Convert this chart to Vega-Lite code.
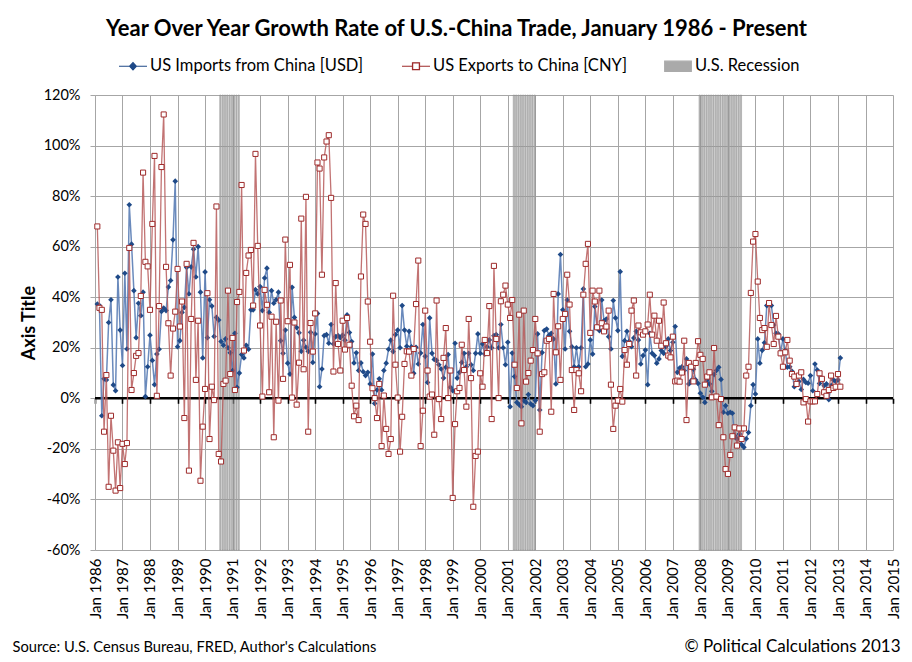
{
  "$schema": "https://vega.github.io/schema/vega-lite/v6.json",
  "background": "white",
  "padding": {"left": 12, "top": 18, "right": 12, "bottom": 8},
  "width": 798,
  "height": 455,
  "config": {
    "font": "Lato",
    "view": {"stroke": null},
    "axis": {"labelFont": "Lato", "titleFont": "Lato", "labelColor": "black", "titleColor": "black", "gridColor": "#a6a6a6", "gridOpacity": 1, "domainColor": "#a6a6a6", "tickColor": "#a6a6a6"},
    "legend": {
      "title": null, "orient": "none", "direction": "horizontal", "legendX": 23, "legendY": -44,
      "symbolSize": 784, "labelFont": "Lato", "labelFontSize": 16.5, "labelColor": "black", "labelLimit": 400,
      "labelOffset": 2, "columnPadding": 35
    }
  },
  "title": {"text": "Year Over Year Growth Rate of U.S.-China Trade, January 1986 - Present", "fontSize": 22, "fontWeight": "bold", "font": "Lato", "color": "black", "anchor": "middle", "frame": "bounds", "offset": 10},
  "data": {"values": [
    {"d":"1986-01","imp":37.3,"exp":68},{"d":"1986-02","imp":36.7,"exp":35.8},{"d":"1986-03","imp":-6.9,"exp":35},{"d":"1986-04","imp":7.7,"exp":-13.2},{"d":"1986-05","imp":7.3,"exp":9.2},{"d":"1986-06","imp":30,"exp":-35},{"d":"1986-07","imp":39,"exp":-6.9},{"d":"1986-08","imp":5.3,"exp":-20.7},{"d":"1986-09","imp":3,"exp":-36.5},{"d":"1986-10","imp":48,"exp":-17.4},{"d":"1986-11","imp":27,"exp":-35.5},{"d":"1986-12","imp":13,"exp":-18},
    {"d":"1987-01","imp":49.5,"exp":-26},{"d":"1987-02","imp":19.5,"exp":-17.7},{"d":"1987-03","imp":76.6,"exp":59.5},{"d":"1987-04","imp":61,"exp":3.3},{"d":"1987-05","imp":42.6,"exp":10},{"d":"1987-06","imp":24,"exp":16.8},{"d":"1987-07","imp":37.6,"exp":17.9},{"d":"1987-08","imp":32.7,"exp":40.5},{"d":"1987-09","imp":42,"exp":89.3},{"d":"1987-10","imp":0.7,"exp":54},{"d":"1987-11","imp":12.5,"exp":52.2},{"d":"1987-12","imp":25,"exp":35},
    {"d":"1988-01","imp":15,"exp":69},{"d":"1988-02","imp":5.4,"exp":95.9},{"d":"1988-03","imp":17.5,"exp":1},{"d":"1988-04","imp":19.4,"exp":36.5},{"d":"1988-05","imp":34.4,"exp":91.5},{"d":"1988-06","imp":35.7,"exp":112.3},{"d":"1988-07","imp":34.7,"exp":52},{"d":"1988-08","imp":44,"exp":29.7},{"d":"1988-09","imp":46.6,"exp":9},{"d":"1988-10","imp":62.7,"exp":27.6},{"d":"1988-11","imp":85.9,"exp":34.3},{"d":"1988-12","imp":20.4,"exp":51.2},
    {"d":"1989-01","imp":22.8,"exp":28.4},{"d":"1989-02","imp":34,"exp":38.3},{"d":"1989-03","imp":36,"exp":-7.8},{"d":"1989-04","imp":51.8,"exp":53.2},{"d":"1989-05","imp":41.3,"exp":-28.6},{"d":"1989-06","imp":52,"exp":31.4},{"d":"1989-07","imp":59,"exp":61.5},{"d":"1989-08","imp":48,"exp":7.3},{"d":"1989-09","imp":60,"exp":30.7},{"d":"1989-10","imp":42,"exp":-32.6},{"d":"1989-11","imp":16,"exp":-11.2},{"d":"1989-12","imp":50,"exp":3.7},
    {"d":"1990-01","imp":24,"exp":41.6},{"d":"1990-02","imp":39,"exp":-16.1},{"d":"1990-03","imp":36.5,"exp":4.6},{"d":"1990-04","imp":24.5,"exp":-0.7},{"d":"1990-05","imp":32,"exp":75.9},{"d":"1990-06","imp":31,"exp":-22},{"d":"1990-07","imp":22.5,"exp":-25},{"d":"1990-08","imp":21,"exp":5.7},{"d":"1990-09","imp":23.5,"exp":7},{"d":"1990-10","imp":20,"exp":42.6},{"d":"1990-11","imp":18,"exp":9.6},{"d":"1990-12","imp":11,"exp":23.9},
    {"d":"1991-01","imp":25.7,"exp":3.3},{"d":"1991-02","imp":4.4,"exp":38.1},{"d":"1991-03","imp":10,"exp":42.1},{"d":"1991-04","imp":17.3,"exp":84.4},{"d":"1991-05","imp":16,"exp":18.9},{"d":"1991-06","imp":21,"exp":49.6},{"d":"1991-07","imp":19.4,"exp":56.5},{"d":"1991-08","imp":35,"exp":58.7},{"d":"1991-09","imp":35,"exp":36.7},{"d":"1991-10","imp":43,"exp":96.7},{"d":"1991-11","imp":41.3,"exp":60.3},{"d":"1991-12","imp":44.2,"exp":28.8},
    {"d":"1992-01","imp":34.7,"exp":0.7},{"d":"1992-02","imp":47.6,"exp":42.9},{"d":"1992-03","imp":51.5,"exp":37},{"d":"1992-04","imp":34,"exp":2.4},{"d":"1992-05","imp":42.6,"exp":32.3},{"d":"1992-06","imp":37.6,"exp":-15.4},{"d":"1992-07","imp":39,"exp":30.3},{"d":"1992-08","imp":42,"exp":-0.9},{"d":"1992-09","imp":22.8,"exp":38.7},{"d":"1992-10","imp":17.8,"exp":7.7},{"d":"1992-11","imp":27,"exp":62.8},{"d":"1992-12","imp":13.9,"exp":30.5},
    {"d":"1993-01","imp":9.6,"exp":52.8},{"d":"1993-02","imp":43.9,"exp":0.3},{"d":"1993-03","imp":32,"exp":30},{"d":"1993-04","imp":28,"exp":-2.5},{"d":"1993-05","imp":25.9,"exp":14.1},{"d":"1993-06","imp":18.6,"exp":71.1},{"d":"1993-07","imp":23,"exp":11.5},{"d":"1993-08","imp":20.2,"exp":79.7},{"d":"1993-09","imp":18.6,"exp":-13.2},{"d":"1993-10","imp":26.1,"exp":29.8},{"d":"1993-11","imp":14.2,"exp":18.5},{"d":"1993-12","imp":25.5,"exp":33.6},
    {"d":"1994-01","imp":33.6,"exp":93.3},{"d":"1994-02","imp":4.6,"exp":90.9},{"d":"1994-03","imp":11.6,"exp":48.9},{"d":"1994-04","imp":24.8,"exp":95.3},{"d":"1994-05","imp":25.2,"exp":101.6},{"d":"1994-06","imp":21.8,"exp":104.1},{"d":"1994-07","imp":29.2,"exp":79.3},{"d":"1994-08","imp":21.5,"exp":10.6},{"d":"1994-09","imp":24.4,"exp":45.6},{"d":"1994-10","imp":24.8,"exp":21.5},{"d":"1994-11","imp":24,"exp":11},{"d":"1994-12","imp":25,"exp":30.7},
    {"d":"1995-01","imp":23,"exp":19.3},{"d":"1995-02","imp":33,"exp":31.8},{"d":"1995-03","imp":26,"exp":21.2},{"d":"1995-04","imp":22.5,"exp":5},{"d":"1995-05","imp":14,"exp":-7.1},{"d":"1995-06","imp":18,"exp":-2.9},{"d":"1995-07","imp":11,"exp":-8.6},{"d":"1995-08","imp":14,"exp":48.2},{"d":"1995-09","imp":10.5,"exp":72.7},{"d":"1995-10","imp":9,"exp":69},{"d":"1995-11","imp":10.3,"exp":38.3},{"d":"1995-12","imp":5.7,"exp":22.4},
    {"d":"1996-01","imp":17.5,"exp":4},{"d":"1996-02","imp":-2,"exp":0.1},{"d":"1996-03","imp":3.3,"exp":-7.8},{"d":"1996-04","imp":7.7,"exp":5.7},{"d":"1996-05","imp":3.3,"exp":-18.9},{"d":"1996-06","imp":11,"exp":1.1},{"d":"1996-07","imp":13.9,"exp":-12.1},{"d":"1996-08","imp":19.4,"exp":-22},{"d":"1996-09","imp":23,"exp":-16.1},{"d":"1996-10","imp":18.5,"exp":40.6},{"d":"1996-11","imp":25.2,"exp":13.3},{"d":"1996-12","imp":27,"exp":0.3},
    {"d":"1997-01","imp":20,"exp":-21.1},{"d":"1997-02","imp":36.7,"exp":-7.3},{"d":"1997-03","imp":27,"exp":13.6},{"d":"1997-04","imp":20.6,"exp":18.6},{"d":"1997-05","imp":26.5,"exp":18.5},{"d":"1997-06","imp":20.4,"exp":9},{"d":"1997-07","imp":9.9,"exp":19.5},{"d":"1997-08","imp":20.2,"exp":37.3},{"d":"1997-09","imp":13.6,"exp":54.5},{"d":"1997-10","imp":17.9,"exp":-18.9},{"d":"1997-11","imp":29.2,"exp":-4.9},{"d":"1997-12","imp":16.6,"exp":34.7},
    {"d":"1998-01","imp":6.3,"exp":11},{"d":"1998-02","imp":31.8,"exp":0.7},{"d":"1998-03","imp":17.8,"exp":1.5},{"d":"1998-04","imp":15.4,"exp":-14.4},{"d":"1998-05","imp":15,"exp":38.7},{"d":"1998-06","imp":13.3,"exp":-0.3},{"d":"1998-07","imp":11.6,"exp":-8.2},{"d":"1998-08","imp":8,"exp":16},{"d":"1998-09","imp":12.3,"exp":27.8},{"d":"1998-10","imp":17.3,"exp":0.1},{"d":"1998-11","imp":4.4,"exp":11},{"d":"1998-12","imp":3,"exp":-39.4},
    {"d":"1999-01","imp":21.8,"exp":-10.2},{"d":"1999-02","imp":8,"exp":2.8},{"d":"1999-03","imp":10.3,"exp":4.1},{"d":"1999-04","imp":14.2,"exp":21.2},{"d":"1999-05","imp":17.8,"exp":11.2},{"d":"1999-06","imp":12.5,"exp":-3.3},{"d":"1999-07","imp":17.8,"exp":31.4},{"d":"1999-08","imp":13.3,"exp":8},{"d":"1999-09","imp":11,"exp":-42.9},{"d":"1999-10","imp":17.8,"exp":-22.8},{"d":"1999-11","imp":25.5,"exp":-21.1},{"d":"1999-12","imp":17.8,"exp":9.9},
    {"d":"2000-01","imp":21.5,"exp":4.6},{"d":"2000-02","imp":17.5,"exp":23.1},{"d":"2000-03","imp":20.4,"exp":17.9},{"d":"2000-04","imp":23.1,"exp":36.5},{"d":"2000-05","imp":20,"exp":-8.2},{"d":"2000-06","imp":24.8,"exp":52.4},{"d":"2000-07","imp":25.2,"exp":23.5},{"d":"2000-08","imp":20,"exp":0.1},{"d":"2000-09","imp":29.2,"exp":38.4},{"d":"2000-10","imp":20,"exp":41},{"d":"2000-11","imp":13.3,"exp":44.6},{"d":"2000-12","imp":22.2,"exp":37.1},
    {"d":"2001-01","imp":-3.3,"exp":31.8},{"d":"2001-02","imp":17.9,"exp":38.9},{"d":"2001-03","imp":8.6,"exp":13.3},{"d":"2001-04","imp":-1.6,"exp":4.1},{"d":"2001-05","imp":-2.5,"exp":33.1},{"d":"2001-06","imp":-3.3,"exp":-9.9},{"d":"2001-07","imp":-0.9,"exp":34.7},{"d":"2001-08","imp":-1.6,"exp":6.6},{"d":"2001-09","imp":1.5,"exp":10},{"d":"2001-10","imp":-2.2,"exp":14.9},{"d":"2001-11","imp":-2.9,"exp":19.1},{"d":"2001-12","imp":-0.9,"exp":31.4},
    {"d":"2002-01","imp":25.5,"exp":17.8},{"d":"2002-02","imp":-4.6,"exp":-13.2},{"d":"2002-03","imp":18.1,"exp":9.6},{"d":"2002-04","imp":26.8,"exp":10.3},{"d":"2002-05","imp":27.4,"exp":22.8},{"d":"2002-06","imp":24.9,"exp":23.5},{"d":"2002-07","imp":25.7,"exp":-5.3},{"d":"2002-08","imp":23.5,"exp":41.3},{"d":"2002-09","imp":5.7,"exp":18.2},{"d":"2002-10","imp":41.3,"exp":28.5},{"d":"2002-11","imp":56.9,"exp":7.3},{"d":"2002-12","imp":35,"exp":31.4},
    {"d":"2003-01","imp":19.5,"exp":33.4},{"d":"2003-02","imp":38.9,"exp":48.9},{"d":"2003-03","imp":26.5,"exp":37.1},{"d":"2003-04","imp":20.4,"exp":11.2},{"d":"2003-05","imp":12.5,"exp":-4.6},{"d":"2003-06","imp":20,"exp":11.2},{"d":"2003-07","imp":12.5,"exp":9.9},{"d":"2003-08","imp":20,"exp":2.8},{"d":"2003-09","imp":43.3,"exp":41},{"d":"2003-10","imp":12.5,"exp":53.2},{"d":"2003-11","imp":13.6,"exp":61.1},{"d":"2003-12","imp":23.1,"exp":25.9},
    {"d":"2004-01","imp":17.5,"exp":42.6},{"d":"2004-02","imp":36.3,"exp":38.3},{"d":"2004-03","imp":27.8,"exp":28.1},{"d":"2004-04","imp":26.8,"exp":42.6},{"d":"2004-05","imp":38.9,"exp":29.7},{"d":"2004-06","imp":30.7,"exp":26.5},{"d":"2004-07","imp":31.4,"exp":28.4},{"d":"2004-08","imp":24.4,"exp":34.7},{"d":"2004-09","imp":19.5,"exp":5.4},{"d":"2004-10","imp":38.7,"exp":-12.1},{"d":"2004-11","imp":31.8,"exp":-2.9},{"d":"2004-12","imp":26.8,"exp":-0.9},
    {"d":"2005-01","imp":50.1,"exp":3.7},{"d":"2005-02","imp":16.6,"exp":-1.3},{"d":"2005-03","imp":22.8,"exp":19.1},{"d":"2005-04","imp":26.5,"exp":13.3},{"d":"2005-05","imp":22.6,"exp":21.5},{"d":"2005-06","imp":20.4,"exp":34.7},{"d":"2005-07","imp":23.9,"exp":38.7},{"d":"2005-08","imp":26.5,"exp":9},{"d":"2005-09","imp":23.1,"exp":28.8},{"d":"2005-10","imp":13.6,"exp":26.1},{"d":"2005-11","imp":16.9,"exp":25.2},{"d":"2005-12","imp":19.1,"exp":26.5},
    {"d":"2006-01","imp":5.4,"exp":29.2},{"d":"2006-02","imp":25.7,"exp":41},{"d":"2006-03","imp":17.8,"exp":25.2},{"d":"2006-04","imp":16.9,"exp":32.7},{"d":"2006-05","imp":13.9,"exp":22.8},{"d":"2006-06","imp":15.6,"exp":30.7},{"d":"2006-07","imp":18.9,"exp":20.8},{"d":"2006-08","imp":17.8,"exp":37.9},{"d":"2006-09","imp":20.4,"exp":21.8},{"d":"2006-10","imp":23.5,"exp":16.9},{"d":"2006-11","imp":18.9,"exp":16.2},{"d":"2006-12","imp":22.2,"exp":24.4},
    {"d":"2007-01","imp":28.4,"exp":6.7},{"d":"2007-02","imp":10.3,"exp":7},{"d":"2007-03","imp":12,"exp":6.6},{"d":"2007-04","imp":12.5,"exp":10.2},{"d":"2007-05","imp":11,"exp":22.8},{"d":"2007-06","imp":15.6,"exp":-8.6},{"d":"2007-07","imp":5.7,"exp":14},{"d":"2007-08","imp":7,"exp":12.5},{"d":"2007-09","imp":11.5,"exp":6.7},{"d":"2007-10","imp":7.3,"exp":14},{"d":"2007-11","imp":5.9,"exp":22.6},{"d":"2007-12","imp":2,"exp":17.2},
    {"d":"2008-01","imp":0.5,"exp":15.6},{"d":"2008-02","imp":-1.6,"exp":5.4},{"d":"2008-03","imp":7.3,"exp":8.6},{"d":"2008-04","imp":5.7,"exp":10.3},{"d":"2008-05","imp":2.8,"exp":0.4},{"d":"2008-06","imp":9.5,"exp":19.9},{"d":"2008-07","imp":11,"exp":0.7},{"d":"2008-08","imp":12.3,"exp":-10.6},{"d":"2008-09","imp":7.5,"exp":-0.3},{"d":"2008-10","imp":-5.5,"exp":-15.4},{"d":"2008-11","imp":-2.9,"exp":-28},{"d":"2008-12","imp":-5.9,"exp":-29.9},
    {"d":"2009-01","imp":-5.5,"exp":-22.4},{"d":"2009-02","imp":-5.9,"exp":-15},{"d":"2009-03","imp":-14.8,"exp":-11.5},{"d":"2009-04","imp":-16.1,"exp":-18.7},{"d":"2009-05","imp":-14.1,"exp":-11.9},{"d":"2009-06","imp":-18.3,"exp":-16.1},{"d":"2009-07","imp":-19.4,"exp":-11.9},{"d":"2009-08","imp":-16,"exp":9},{"d":"2009-09","imp":-13.5,"exp":12.5},{"d":"2009-10","imp":-2.9,"exp":41.7},{"d":"2009-11","imp":5.4,"exp":62},{"d":"2009-12","imp":1.7,"exp":65},
    {"d":"2010-01","imp":23.5,"exp":46.2},{"d":"2010-02","imp":13.9,"exp":31.8},{"d":"2010-03","imp":19,"exp":27},{"d":"2010-04","imp":22,"exp":27.8},{"d":"2010-05","imp":36.7,"exp":20.4},{"d":"2010-06","imp":37.3,"exp":37.7},{"d":"2010-07","imp":36.7,"exp":29},{"d":"2010-08","imp":29,"exp":21.5},{"d":"2010-09","imp":25.7,"exp":32.6},{"d":"2010-10","imp":25.5,"exp":24.4},{"d":"2010-11","imp":18,"exp":17.8},{"d":"2010-12","imp":23.5,"exp":12.5},
    {"d":"2011-01","imp":19,"exp":18.2},{"d":"2011-02","imp":12.3,"exp":23.1},{"d":"2011-03","imp":12.5,"exp":14.9},{"d":"2011-04","imp":10.7,"exp":9.6},{"d":"2011-05","imp":4.6,"exp":8.6},{"d":"2011-06","imp":5.7,"exp":5.7},{"d":"2011-07","imp":6.7,"exp":9},{"d":"2011-08","imp":3.5,"exp":10.3},{"d":"2011-09","imp":7.5,"exp":-1.6},{"d":"2011-10","imp":6.3,"exp":-0.3},{"d":"2011-11","imp":6,"exp":-9.2},{"d":"2011-12","imp":9,"exp":-1.2},
    {"d":"2012-01","imp":3,"exp":-1.2},{"d":"2012-02","imp":13.6,"exp":-1.2},{"d":"2012-03","imp":11.2,"exp":1.7},{"d":"2012-04","imp":5.9,"exp":9.9},{"d":"2012-05","imp":8,"exp":7.7},{"d":"2012-06","imp":5,"exp":2.4},{"d":"2012-07","imp":5.7,"exp":1},{"d":"2012-08","imp":-0.5,"exp":3.3},{"d":"2012-09","imp":5,"exp":9},{"d":"2012-10","imp":7.3,"exp":4.1},{"d":"2012-11","imp":6.7,"exp":4.6},{"d":"2012-12","imp":7.3,"exp":9.6},
    {"d":"2013-01","imp":16,"exp":4.6}
  ]},
  "layer": [
    {
      "data": {"values": [
        {"d":"1990-07"},{"d":"1990-08"},{"d":"1990-09"},{"d":"1990-10"},{"d":"1990-11"},{"d":"1990-12"},{"d":"1991-01"},{"d":"1991-02"},{"d":"1991-03"},
        {"d":"2001-03"},{"d":"2001-04"},{"d":"2001-05"},{"d":"2001-06"},{"d":"2001-07"},{"d":"2001-08"},{"d":"2001-09"},{"d":"2001-10"},{"d":"2001-11"},{"d":"2001-12"},
        {"d":"2007-12"},{"d":"2008-01"},{"d":"2008-02"},{"d":"2008-03"},{"d":"2008-04"},{"d":"2008-05"},{"d":"2008-06"},{"d":"2008-07"},{"d":"2008-08"},{"d":"2008-09"},{"d":"2008-10"},{"d":"2008-11"},{"d":"2008-12"},{"d":"2009-01"},{"d":"2009-02"},{"d":"2009-03"},{"d":"2009-04"},{"d":"2009-05"},{"d":"2009-06"}
      ]},
      "mark": {"type": "bar", "fillOpacity": 0.75, "stroke": "#8c8c8c", "strokeWidth": 0.6, "strokeOpacity": 0.8},
      "encoding": {
        "x": {
          "field": "d", "timeUnit": "utcyearmonth", "type": "temporal",
          "scale": {"domain": [{"year": 1986, "month": 1, "date": 1, "utc": true}, {"year": 2015, "month": 1, "date": 1, "utc": true}]},
          "axis": {
            "orient": "bottom", "offset": -151.7, "domain": false, "grid": false, "labels": false,
            "ticks": true, "tickColor": "black", "tickWidth": 1.6, "tickSize": 5,
            "tickCount": {"interval": "year", "step": 1},
            "title": "© Political Calculations 2013", "titleFontSize": 17, "titleFontWeight": "normal",
            "titleAlign": "right", "titleBaseline": "alphabetic", "titleX": 805, "titleY": 253
          }
        },
        "y": {
          "datum": 120, "type": "quantitative", "title": "Axis Title",
          "scale": {"domain": [-60, 120], "nice": false, "zero": false},
          "axis": {
            "values": [-60, -50, -40, -30, -20, -10, 0, 10, 20, 30, 40, 50, 60, 70, 80, 90, 100, 110, 120],
            "labelExpr": "datum.value + '%'", "labelFontSize": 14.5, "tickSize": 5, "labelPadding": 10,
            "grid": true, "titleFontSize": 18, "titleFontWeight": "bold", "titlePadding": 5
          }
        },
        "y2": {"datum": -60},
        "color": {
          "datum": "U.S. Recession", "type": "nominal",
          "scale": {"domain": ["US Imports from China [USD]", "US Exports to China [CNY]", "U.S. Recession"], "range": ["#1f4a88", "#9e2b2b", "#aaaaaa"]},
          "legend": {
            "encoding": {
              "symbols": {
                "shape": {"condition": [
                  {"test": "datum.value === 'U.S. Recession'", "value": "M-0.95,-0.36H0.95V0.36H-0.95Z"},
                  {"test": "datum.value === 'US Imports from China [USD]'", "value": "M-1,0H1M-0.24,0L0,-0.26L0.24,0L0,0.26Z"}
                ], "value": "M-1,0H-0.25M0.25,0H1M-0.25,-0.25H0.25V0.25H-0.25ZM-0.24,-0.24V0.24H0.24V-0.24Z"},
                "fill": {"condition": [
                  {"test": "datum.value === 'U.S. Recession'", "value": "#bfbfbf"},
                  {"test": "datum.value === 'US Imports from China [USD]'", "value": "#1f4a88"}
                ], "value": "#ffffff"},
                "stroke": {"condition": [
                  {"test": "datum.value === 'U.S. Recession'", "value": "transparent"},
                  {"test": "datum.value === 'US Imports from China [USD]'", "value": "#1f4a88"}
                ], "value": "#9e2b2b"},
                "strokeWidth": {"value": 1.2},
                "opacity": {"value": 1},
                "fillOpacity": {"value": 1},
                "strokeOpacity": {"value": 1}
              }
            }
          }
        }
      }
    },
    {
      "data": {"values": [{}]},
      "mark": {"type": "rule", "color": "black", "strokeWidth": 2.5},
      "encoding": {"y": {"datum": 0, "type": "quantitative", "title": "Axis Title"}}
    },
    {
      "mark": {"type": "line", "stroke": "#5a7db5", "strokeWidth": 1.5, "opacity": 0.9},
      "encoding": {
        "x": {
          "field": "d", "timeUnit": "utcyearmonth", "type": "temporal", "bandPosition": 1,
          "axis": {
            "orient": "bottom", "format": "%b-%Y", "formatType": "utc", "labelAngle": 270,
            "labelAlign": "right", "labelBaseline": "middle", "labelFontSize": 15, "labelPadding": 8,
            "labelFlush": false, "labelOverlap": false, "ticks": false, "domain": false,
            "grid": true, "tickCount": {"interval": "year", "step": 1},
            "title": "Source: U.S. Census Bureau, FRED, Author's Calculations", "titleFontSize": 14.7,
            "titleFontWeight": "normal", "titleAlign": "left", "titleBaseline": "alphabetic",
            "titleX": -83, "titleY": 101
          }
        },
        "y": {"field": "imp", "type": "quantitative", "title": "Axis Title"}
      }
    },
    {
      "mark": {"type": "point", "shape": "diamond", "filled": true, "size": 32, "opacity": 1},
      "encoding": {
        "x": {"field": "d", "timeUnit": "utcyearmonth", "type": "temporal", "bandPosition": 1, "axis": null},
        "y": {"field": "imp", "type": "quantitative", "title": "Axis Title"},
        "color": {"datum": "US Imports from China [USD]", "type": "nominal"}
      }
    },
    {
      "mark": {"type": "line", "stroke": "#b75a5a", "strokeWidth": 1.3, "opacity": 0.85},
      "encoding": {
        "x": {"field": "d", "timeUnit": "utcyearmonth", "type": "temporal", "bandPosition": 1, "axis": null},
        "y": {"field": "exp", "type": "quantitative", "title": "Axis Title"}
      }
    },
    {
      "mark": {"type": "point", "shape": "square", "filled": false, "fill": "white", "size": 26, "strokeWidth": 1, "opacity": 1},
      "encoding": {
        "x": {"field": "d", "timeUnit": "utcyearmonth", "type": "temporal", "bandPosition": 1, "axis": null},
        "y": {"field": "exp", "type": "quantitative", "title": "Axis Title"},
        "color": {"datum": "US Exports to China [CNY]", "type": "nominal"}
      }
    }
  ],
  "resolve": {"axis": {"x": "independent"}}
}
